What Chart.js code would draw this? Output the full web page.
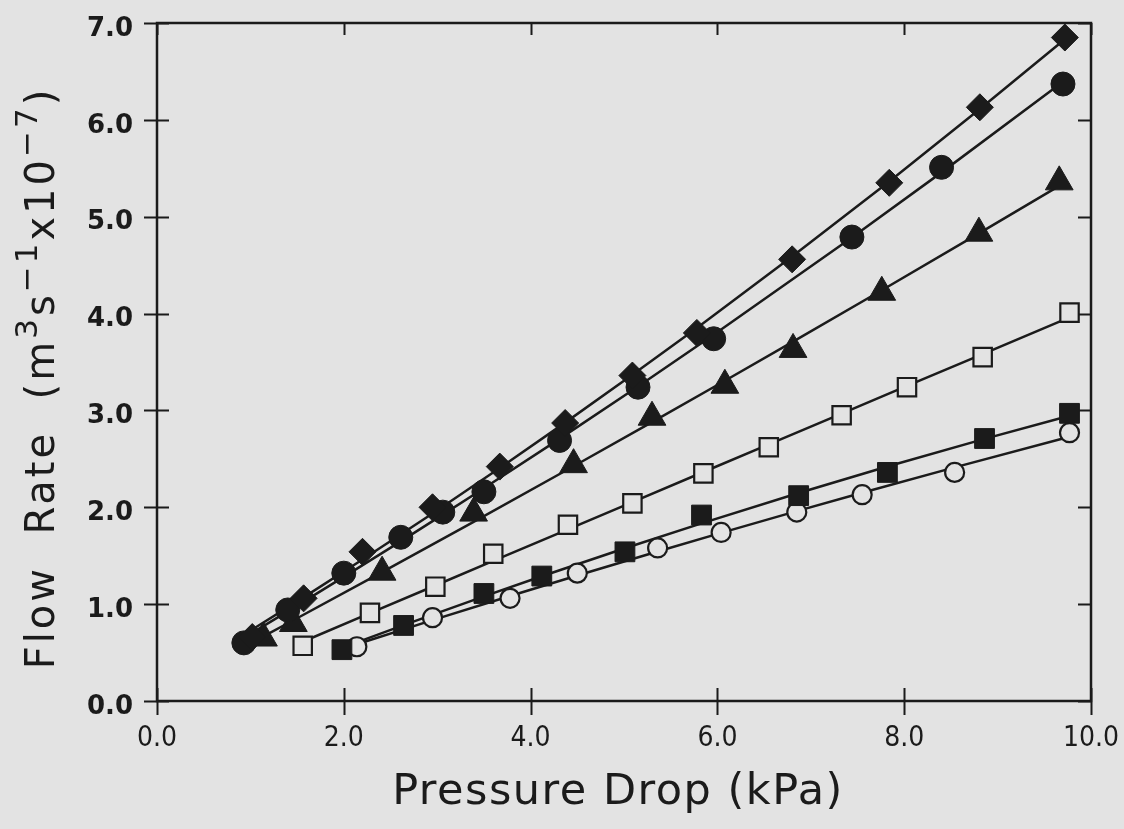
<!DOCTYPE html>
<html>
<head>
<meta charset="utf-8">
<script src="https://cdn.jsdelivr.net/npm/chart.js@4.4.1/dist/chart.umd.min.js"></script>
<style>
  html, body { margin: 0; padding: 0; background: #e3e3e3; }
  #wrap { width: 1124px; height: 829px; }
</style>
</head>
<body>
<div id="wrap"><canvas id="flow" width="1124" height="829"></canvas></div>
<script>
// Axis ranges and tick steps
const xRange = [0, 10];
const yRange = [0, 7];
const xStep = 2;
const yStep = 1;

// Axis titles
const xTitle = 'Pressure Drop (kPa)';
const yTitleParts = [
  ['Flow  Rate  (m', false],
  ['3', true],
  ['s', false],
  ['\u22121', true],
  ['x10', false],
  ['\u22127', true],
  [')', false]
];

// Measured flow rate (m^3 s^-1 x 10^-7) against pressure drop (kPa)
const diamondX = [1.02, 1.57, 2.20, 2.95, 3.67, 4.37, 5.09, 5.78, 6.80, 7.84, 8.81, 9.72];
const diamondY = [0.66, 1.06, 1.54, 2.00, 2.42, 2.87, 3.36, 3.80, 4.56, 5.35, 6.13, 6.85];

const circleX = [0.93, 1.40, 2.00, 2.61, 3.06, 3.50, 4.31, 5.15, 5.96, 7.44, 8.40, 9.70];
const circleY = [0.60, 0.94, 1.32, 1.69, 1.95, 2.16, 2.69, 3.24, 3.74, 4.79, 5.51, 6.37];

const triangleX = [1.14, 1.46, 2.41, 3.39, 4.46, 5.30, 6.08, 6.81, 7.76, 8.80, 9.66];
const triangleY = [0.65, 0.80, 1.33, 1.94, 2.44, 2.93, 3.26, 3.63, 4.22, 4.83, 5.36];

const openSquareX = [1.56, 2.28, 2.98, 3.60, 4.40, 5.09, 5.85, 6.55, 7.33, 8.03, 8.84, 9.77];
const openSquareY = [0.57, 0.91, 1.18, 1.52, 1.82, 2.04, 2.35, 2.62, 2.95, 3.24, 3.55, 4.01];

const squareX = [1.98, 2.64, 3.50, 4.12, 5.01, 5.83, 6.87, 7.82, 8.86, 9.77];
const squareY = [0.53, 0.78, 1.11, 1.29, 1.54, 1.92, 2.12, 2.36, 2.71, 2.97];

const openCircleX = [2.14, 2.95, 3.78, 4.50, 5.36, 6.04, 6.85, 7.55, 8.54, 9.77];
const openCircleY = [0.56, 0.86, 1.06, 1.32, 1.58, 1.74, 1.95, 2.13, 2.36, 2.77];

const INK = '#1b1b1b';
const PAPER = '#e3e3e3';

function pts(xs, ys) {
  return xs.map((x, i) => ({ x: x, y: ys[i] }));
}

// Least-squares quadratic through a series, evaluated at its own x values
function quadFit(xs, ys) {
  const n = xs.length;
  let s = [0, 0, 0, 0, 0], t = [0, 0, 0];
  for (let i = 0; i < n; i++) {
    let p = 1;
    for (let k = 0; k < 5; k++) { s[k] += p; if (k < 3) t[k] += p * ys[i]; p *= xs[i]; }
  }
  const A = [[s[0], s[1], s[2], t[0]], [s[1], s[2], s[3], t[1]], [s[2], s[3], s[4], t[2]]];
  for (let c = 0; c < 3; c++) {
    for (let r = c + 1; r < 3; r++) {
      const f = A[r][c] / A[c][c];
      for (let k = c; k < 4; k++) A[r][k] -= f * A[c][k];
    }
  }
  const b = [0, 0, 0];
  for (let r = 2; r >= 0; r--) {
    let v = A[r][3];
    for (let k = r + 1; k < 3; k++) v -= A[r][k] * b[k];
    b[r] = v / A[r][r];
  }
  return xs.map(x => ({ x: x, y: b[0] + b[1] * x + b[2] * x * x }));
}

const series = [
  { xs: diamondX, ys: diamondY, style: 'rectRot', r: 13.5, fill: INK, bw: 1 },
  { xs: circleX, ys: circleY, style: 'circle', r: 12, fill: INK, bw: 1 },
  { xs: triangleX, ys: triangleY, style: 'triangle', r: 16, fill: INK, bw: 1 },
  { xs: openSquareX, ys: openSquareY, style: 'rect', r: 13, fill: PAPER, bw: 2.2 },
  { xs: squareX, ys: squareY, style: 'rect', r: 14, fill: INK, bw: 1 },
  { xs: openCircleX, ys: openCircleY, style: 'circle', r: 9.5, fill: PAPER, bw: 2.2 }
];

const datasets = [];
series.forEach(s => {
  datasets.push({
    type: 'line',
    data: quadFit(s.xs, s.ys),
    borderColor: INK,
    borderWidth: 2.5,
    pointRadius: 0,
    tension: 0,
    fill: false,
    order: 2
  });
  datasets.push({
    type: 'scatter',
    data: pts(s.xs, s.ys),
    pointStyle: s.style,
    pointRadius: s.r,
    pointHoverRadius: s.r,
    backgroundColor: s.fill,
    borderColor: INK,
    borderWidth: s.bw,
    order: 1
  });
});

// Paper background
const paper = {
  id: 'paper',
  beforeDraw(chart) {
    const c = chart.ctx;
    c.save();
    c.fillStyle = PAPER;
    c.fillRect(0, 0, chart.width, chart.height);
    c.restore();
  }
};

// Frame, tick marks and axis titles
const frame = {
  id: 'frame',
  afterDraw(chart) {
    const c = chart.ctx;
    const a = chart.chartArea;
    const xs = chart.scales.x, ys = chart.scales.y;
    c.save();
    c.strokeStyle = INK;
    c.lineWidth = 2.5;
    c.strokeRect(a.left, a.top, a.right - a.left, a.bottom - a.top);
    c.lineWidth = 2;
    c.beginPath();
    xs.ticks.forEach(t => {
      const px = Math.round(xs.getPixelForValue(t.value)) + 0.5;
      c.moveTo(px, a.bottom - 13); c.lineTo(px, a.bottom + 14);
      c.moveTo(px, a.top); c.lineTo(px, a.top + 12);
    });
    ys.ticks.forEach(t => {
      const py = Math.round(ys.getPixelForValue(t.value)) + 0.5;
      c.moveTo(a.left - 13, py); c.lineTo(a.left + 12, py);
      c.moveTo(a.right - 13, py); c.lineTo(a.right, py);
    });
    c.stroke();

    c.fillStyle = INK;
    c.textBaseline = 'alphabetic';
    c.textAlign = 'center';
    c.font = '43px "DejaVu Sans"';
    c.letterSpacing = '1.5px';
    c.fillText(xTitle, 618, 804);

    // rotated y title with superscripts
    const big = '40px "DejaVu Sans"', small = '31px "DejaVu Sans"';
    c.letterSpacing = '3px';
    let total = 0;
    yTitleParts.forEach(p => { c.font = p[1] ? small : big; total += c.measureText(p[0]).width; });
    c.translate(54, 378);
    c.rotate(-Math.PI / 2);
    c.textAlign = 'left';
    let x = -total / 2;
    yTitleParts.forEach(p => {
      c.font = p[1] ? small : big;
      c.fillText(p[0], x, p[1] ? -17 : 0);
      x += c.measureText(p[0]).width;
    });
    c.restore();
  }
};

new Chart(document.getElementById('flow'), {
  data: { datasets: datasets },
  plugins: [paper, frame],
  options: {
    responsive: false,
    animation: false,
    devicePixelRatio: 1,
    layout: { padding: { top: 23, right: 33, left: 0, bottom: 0 } },
    plugins: { legend: { display: false }, tooltip: { enabled: false } },
    scales: {
      x: {
        type: 'linear',
        position: 'bottom',
        min: xRange[0], max: xRange[1],
        ticks: {
          stepSize: xStep,
          callback: v => v.toFixed(1),
          color: INK,
          padding: 21,
          maxRotation: 0,
          font: { family: '"DejaVu Sans Condensed", "DejaVu Sans", sans-serif', size: 28 }
        },
        grid: { display: false, drawTicks: false },
        border: { display: false },
        afterFit: s => { s.height = 128; s.paddingLeft = 0; s.paddingRight = 0; }
      },
      y: {
        type: 'linear',
        min: yRange[0], max: yRange[1],
        ticks: {
          stepSize: yStep,
          callback: v => v.toFixed(1),
          color: INK,
          padding: 24,
          labelOffset: 6,
          font: { family: '"DejaVu Sans", sans-serif', size: 26, weight: 'bold' }
        },
        grid: { display: false, drawTicks: false },
        border: { display: false },
        afterFit: s => { s.width = 157; s.paddingTop = 0; s.paddingBottom = 0; }
      }
    }
  }
});
</script>
</body>
</html>
